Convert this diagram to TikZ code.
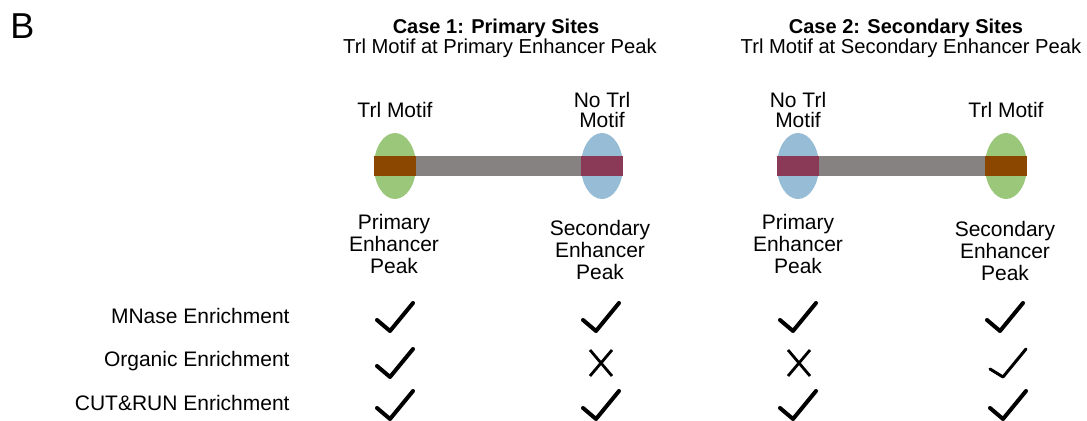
\documentclass[tikz,border=0pt]{standalone}
\usepackage{fontspec}
\setmainfont{Liberation Sans}
\usepackage{tikz}
\usetikzlibrary{positioning,shapes.geometric}
\definecolor{PeakGreen}{HTML}{9BC77B}
\definecolor{PeakBlue}{HTML}{96BCD6}
\definecolor{Linker}{HTML}{868281}
\definecolor{MotifBrown}{HTML}{8B4600}
\definecolor{NoMotif}{HTML}{8A3A56}
\tikzset{
  peak/.style={ellipse,minimum width=21pt,minimum height=33pt,inner sep=0pt},
  linker/.style={line width=10pt,draw=Linker},
  tickmark/.pic={\draw[line width=2pt,line cap=round,line join=round] (-18,3) -- (-5,14) -- (18,-14);},
  thintick/.pic={\draw[line width=1.5pt,line cap=round,line join=round] (-18,6) -- (-5,14) -- (18,-14);},
  crossmark/.pic={\draw[line width=1.4pt] (-11,-13) -- (11,13) (-11,13) -- (11,-13);}
}

\begin{document}
\begin{tikzpicture}[x=0.5pt,y=-0.5pt, every node/.style={inner sep=0pt,font=\fontsize{10.5}{10}\selectfont}]
\fill[white] (0,0) rectangle (1087,421);
\useasboundingbox (0,0) rectangle (1087,421);

\node[anchor=base west,font=\fontsize{18}{18}\selectfont] (panel) at (10,39) {B};

% case headers
\node[anchor=base,font=\fontsize{10}{10}\selectfont\bfseries] (case1) at (496,34) {Case 1: Primary Sites};
\node[anchor=base,font=\fontsize{10.1}{10}\selectfont] (sub1) at (500,54) {Trl Motif at Primary Enhancer Peak};
\node[anchor=base,font=\fontsize{10}{10}\selectfont\bfseries] (case2) at (906,34) {Case 2: Secondary Sites};
\node[anchor=base,font=\fontsize{10.1}{10}\selectfont] (sub2) at (911,54) {Trl Motif at Secondary Enhancer Peak};

% peaks
\node[peak,fill=PeakGreen] (pk1) at (395,166) {};
\node[peak,fill=PeakBlue] (pk2) at (602,166) {};
\node[peak,fill=PeakBlue] (pk3) at (798,166) {};
\node[peak,fill=PeakGreen] (pk4) at (1006,166) {};
\draw[linker] (pk1.west) -- (pk2.east);
\draw[linker] (pk3.west) -- (pk4.east);
\draw[linker,draw=MotifBrown] (pk1.west) -- (pk1.east);
\draw[linker,draw=NoMotif] (pk2.west) -- (pk2.east);
\draw[linker,draw=NoMotif] (pk3.west) -- (pk3.east);
\draw[linker,draw=MotifBrown] (pk4.west) -- (pk4.east);

% motif labels
\node[align=center] (m1) at (395,110) {Trl Motif};
\node[align=center] (m2) at (602,110) {No Trl\\Motif};
\node[align=center] (m3) at (798,110) {No Trl\\Motif};
\node[align=center] (m4) at (1006,110) {Trl Motif};

% peak labels
\node[align=center,font=\fontsize{10.5}{11}\selectfont] (l1) at (394,244) {Primary\\Enhancer\\Peak};
\node[align=center,font=\fontsize{10.5}{11}\selectfont] (l2) at (600,250) {Secondary\\Enhancer\\Peak};
\node[align=center,font=\fontsize{10.5}{11}\selectfont] (l3) at (798,244) {Primary\\Enhancer\\Peak};
\node[align=center,font=\fontsize{10.5}{11}\selectfont] (l4) at (1005,251) {Secondary\\Enhancer\\Peak};

% assays
\node[anchor=base east] (mnase) at (290,324) {MNase Enrichment};
\node[anchor=base east] (organic) at (290,367) {Organic Enrichment};
\node[anchor=base east] (cutrun) at (290,411) {CUT\&RUN Enrichment};

\pic at (395,317) {tickmark};
\pic at (601,317) {tickmark};
\pic at (798,317) {tickmark};
\pic at (1005,317) {tickmark};

\pic at (395,363) {tickmark};
\pic at (601,363) {crossmark};
\pic at (799,363) {crossmark};
\pic at (1008,363) {thintick};

\pic at (395,405) {tickmark};
\pic at (601,405) {tickmark};
\pic at (798,405) {tickmark};
\pic at (1008,405) {tickmark};
\end{tikzpicture}
\end{document}
